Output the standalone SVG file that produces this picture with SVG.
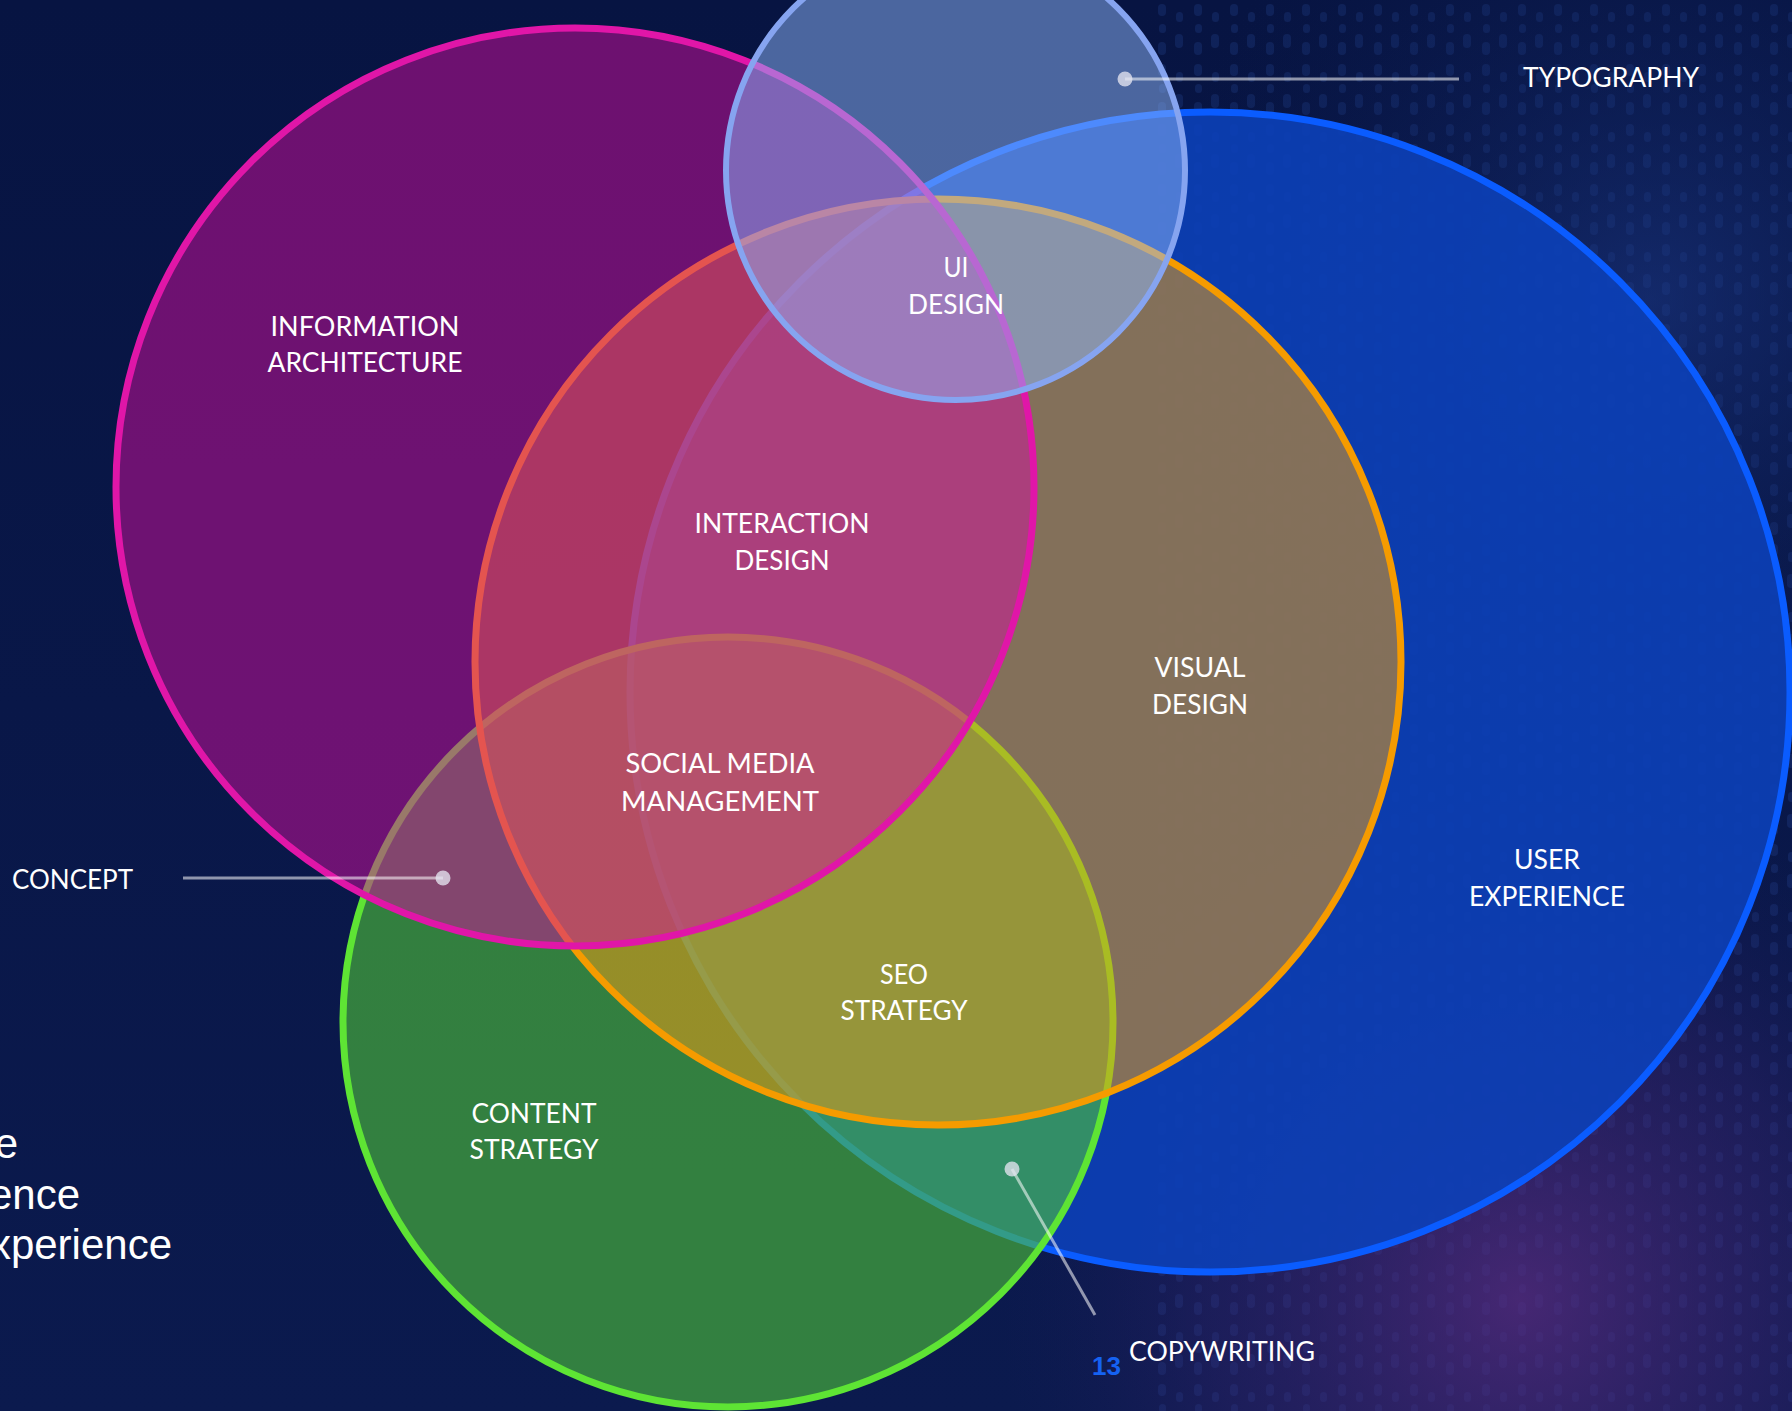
<svg xmlns="http://www.w3.org/2000/svg" width="1792" height="1411" viewBox="0 0 1792 1411">
  <defs>
    <style>
      .lbl { font-family: Lato, "Open Sans", "Liberation Sans", sans-serif; font-size: 27px; fill: #ffffff; text-anchor: middle; }
      .lbl-l { text-anchor: start; }
      .side { font-family: "Liberation Sans", Arial, sans-serif; font-size: 42px; fill: #ffffff; text-anchor: end; }
      .page { font-family: "Liberation Sans", Arial, sans-serif; font-size: 26px; font-weight: bold; fill: #1562f2; }
      .ring { stroke-width: 7; }
      .conn { stroke: #ffffff; stroke-opacity: 0.55; stroke-width: 3; fill: none; }
      .dot { fill: #e4e4f0; fill-opacity: 0.78; }
    </style>
    <linearGradient id="bgGrad" x1="0" y1="0" x2="0" y2="1">
      <stop offset="0" stop-color="#071442"/>
      <stop offset="1" stop-color="#0b1a4e"/>
    </linearGradient>
    <radialGradient id="glowBR" cx="1520" cy="1300" r="520" gradientUnits="userSpaceOnUse">
      <stop offset="0" stop-color="#5a2c80" stop-opacity="0.75"/>
      <stop offset="0.6" stop-color="#3a2470" stop-opacity="0.35"/>
      <stop offset="1" stop-color="#1a1a5a" stop-opacity="0"/>
    </radialGradient>
    <radialGradient id="glowR" cx="1650" cy="300" r="500" gradientUnits="userSpaceOnUse">
      <stop offset="0" stop-color="#1d3a8a" stop-opacity="0.55"/>
      <stop offset="1" stop-color="#0b1a4e" stop-opacity="0"/>
    </radialGradient>
    <pattern id="codeRain" x="0" y="0" width="36" height="60" patternUnits="userSpaceOnUse">
      <rect x="6" y="4" width="8" height="12" rx="4" fill="#3a6ad0"/>
      <rect x="7" y="24" width="7" height="9" rx="3.5" fill="#3a6ad0"/>
      <rect x="6" y="42" width="8" height="13" rx="4" fill="#3a6ad0"/>
      <rect x="24" y="12" width="7" height="10" rx="3.5" fill="#3a6ad0"/>
      <rect x="23" y="34" width="8" height="14" rx="4" fill="#3a6ad0"/>
    </pattern>
  </defs>

  <g id="background">
    <rect x="0" y="0" width="1792" height="1411" fill="url(#bgGrad)"/>
    <rect x="1150" y="0" width="642" height="1411" fill="url(#codeRain)" opacity="0.16"/>
    <rect x="0" y="0" width="1792" height="1411" fill="url(#glowR)"/>
    <rect x="0" y="0" width="1792" height="1411" fill="url(#glowBR)"/>
  </g>

  <g id="circles">
    <g id="circle-user-experience">
      <circle cx="1210" cy="692" r="580" fill="#0c40b8" fill-opacity="0.9" stroke="#0a5cff" class="ring"/>
    </g>
    <g id="circle-content-strategy">
      <circle cx="728" cy="1022" r="385" fill="#4ec539" fill-opacity="0.6" stroke="#5ee434" class="ring"/>
    </g>
    <g id="circle-visual-design">
      <circle cx="938" cy="662" r="463" fill="#e89b16" fill-opacity="0.55" stroke="#f59b00" class="ring"/>
    </g>
    <g id="circle-information-architecture">
      <circle cx="575" cy="487" r="459" fill="#d40e9e" fill-opacity="0.5" stroke="#e016a8" class="ring"/>
    </g>
    <g id="circle-ui-design">
      <circle cx="955.5" cy="170.5" r="229.5" fill="#90b8fc" fill-opacity="0.5" stroke="#86a4f0" stroke-width="6"/>
    </g>
  </g>

  <g id="connectors">
    <g id="conn-typography">
      <line x1="1125" y1="79" x2="1459" y2="79" class="conn"/>
      <circle cx="1125" cy="79" r="7.5" class="dot"/>
    </g>
    <g id="conn-concept">
      <line x1="183" y1="878" x2="443" y2="878" class="conn"/>
      <circle cx="443" cy="878" r="7.5" class="dot"/>
    </g>
    <g id="conn-copywriting">
      <line x1="1012" y1="1169" x2="1095" y2="1315" class="conn"/>
      <circle cx="1012" cy="1169" r="7.5" class="dot"/>
    </g>
  </g>

  <g id="labels">
    <g id="label-information-architecture">
      <text class="lbl" x="365" y="336" textLength="189" lengthAdjust="spacingAndGlyphs">INFORMATION</text>
      <text class="lbl" x="365" y="372" textLength="195" lengthAdjust="spacingAndGlyphs">ARCHITECTURE</text>
    </g>
    <g id="label-ui-design">
      <text class="lbl" x="956" y="277" textLength="25" lengthAdjust="spacingAndGlyphs">UI</text>
      <text class="lbl" x="956" y="314" textLength="96" lengthAdjust="spacingAndGlyphs">DESIGN</text>
    </g>
    <g id="label-interaction-design">
      <text class="lbl" x="782" y="533" textLength="175" lengthAdjust="spacingAndGlyphs">INTERACTION</text>
      <text class="lbl" x="782" y="570" textLength="95" lengthAdjust="spacingAndGlyphs">DESIGN</text>
    </g>
    <g id="label-visual-design">
      <text class="lbl" x="1200" y="677" textLength="91" lengthAdjust="spacingAndGlyphs">VISUAL</text>
      <text class="lbl" x="1200" y="714" textLength="96" lengthAdjust="spacingAndGlyphs">DESIGN</text>
    </g>
    <g id="label-social-media-management">
      <text class="lbl" x="720" y="773" textLength="189" lengthAdjust="spacingAndGlyphs">SOCIAL MEDIA</text>
      <text class="lbl" x="720" y="811" textLength="198" lengthAdjust="spacingAndGlyphs">MANAGEMENT</text>
    </g>
    <g id="label-seo-strategy">
      <text class="lbl" x="904" y="984" textLength="48" lengthAdjust="spacingAndGlyphs">SEO</text>
      <text class="lbl" x="904" y="1020" textLength="127" lengthAdjust="spacingAndGlyphs">STRATEGY</text>
    </g>
    <g id="label-content-strategy">
      <text class="lbl" x="534" y="1123" textLength="125" lengthAdjust="spacingAndGlyphs">CONTENT</text>
      <text class="lbl" x="534" y="1159" textLength="129" lengthAdjust="spacingAndGlyphs">STRATEGY</text>
    </g>
    <g id="label-user-experience">
      <text class="lbl" x="1547" y="869" textLength="66" lengthAdjust="spacingAndGlyphs">USER</text>
      <text class="lbl" x="1547" y="906" textLength="156" lengthAdjust="spacingAndGlyphs">EXPERIENCE</text>
    </g>
    <g id="label-typography">
      <text class="lbl lbl-l" x="1523" y="87" textLength="176" lengthAdjust="spacingAndGlyphs">TYPOGRAPHY</text>
    </g>
    <g id="label-concept">
      <text class="lbl lbl-l" x="12" y="889" textLength="121" lengthAdjust="spacingAndGlyphs">CONCEPT</text>
    </g>
    <g id="label-copywriting">
      <text class="lbl lbl-l" x="1129" y="1361" textLength="186" lengthAdjust="spacingAndGlyphs">COPYWRITING</text>
    </g>
    <g id="page-number">
      <text class="page" x="1092" y="1375">13</text>
    </g>
    <g id="side-text">
      <text class="side" x="18" y="1158">e</text>
      <text class="side" x="80" y="1209">ence</text>
      <text class="side" x="172" y="1259">xperience</text>
    </g>
  </g>
</svg>
